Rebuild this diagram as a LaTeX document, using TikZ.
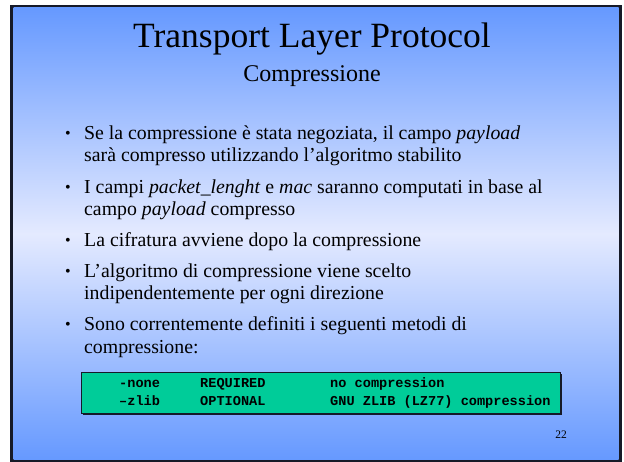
\documentclass[tikz,border=0pt]{standalone}
\usepackage{fontspec}
\setmainfont{Liberation Serif}
\newfontfamily\codefont{Liberation Mono}
\definecolor{frameedge}{RGB}{22,26,40}
\definecolor{skyedge}{RGB}{102,153,255}
\definecolor{skymid}{RGB}{228,234,255}
\definecolor{tablegreen}{RGB}{0,204,153}
\tikzset{
  titletext/.style={anchor=base, inner sep=0pt, font=\fontsize{35.5}{40}\selectfont},
  subtitletext/.style={anchor=base, inner sep=0pt, font=\fontsize{24}{28}\selectfont},
  bodyline/.style={anchor=base west, inner sep=0pt, font=\fontsize{19.8}{23}\selectfont},
  bulletmark/.style={anchor=base west, inner sep=0pt, font=\fontsize{16}{18}\selectfont},
  celltext/.style={anchor=base west, inner sep=0pt, font=\codefont\bfseries\fontsize{13.6}{15}\selectfont},
  pagenum/.style={anchor=base, inner sep=0pt, font=\fontsize{11.5}{14}\selectfont},
}
\begin{document}
\begin{tikzpicture}[x=1pt,y=-1pt]
\useasboundingbox (0,0) rectangle (624,462);
% slide frame and background
\fill[frameedge] (10,5) rectangle (622,462);
\shade[top color=skyedge, bottom color=skyedge, middle color=skymid] (13.5,8) rectangle (618.5,459.5);

% titles
\node[titletext] (title) at (312,48) {Transport Layer Protocol};
\node[subtitletext] (subtitle) at (312,82) {Compressione};

% bullet list
\node[bulletmark] (m1) at (65,139) {•};
\node[bodyline] (l11) at (84,140) {Se la compressione è stata negoziata, il campo \textit{payload}};
\node[bodyline] (l12) at (84,162) {sarà compresso utilizzando l’algoritmo stabilito};

\node[bulletmark] (m2) at (65,193) {•};
\node[bodyline] (l21) at (84,194) {I campi \textit{packet\_lenght} e \textit{mac} saranno computati in base al};
\node[bodyline] (l22) at (84,216) {campo \textit{payload} compresso};

\node[bulletmark] (m3) at (65,246) {•};
\node[bodyline] (l31) at (84,247) {La cifratura avviene dopo la compressione};

\node[bulletmark] (m4) at (65,277) {•};
\node[bodyline] (l41) at (84,278) {L’algoritmo di compressione viene scelto};
\node[bodyline] (l42) at (84,300) {indipendentemente per ogni direzione};

\node[bulletmark] (m5) at (65,330) {•};
\node[bodyline] (l51) at (84,331) {Sono correntemente definiti i seguenti metodi di};
\node[bodyline] (l52) at (84,353) {compressione:};

% table of compression methods
\fill[frameedge] (82.5,373.5) rectangle (561.5,414.5);
\filldraw[fill=tablegreen, draw=frameedge, line width=0.8pt] (81,372) rectangle (560,413);
\node[celltext] (c11) at (119,387) {-none};
\node[celltext] (c12) at (200,387) {REQUIRED};
\node[celltext] (c13) at (330,387) {no compression};
\node[celltext] (c21) at (119,406) {–zlib};
\node[celltext] (c22) at (200,406) {OPTIONAL};
\node[celltext] (c23) at (330,406) {GNU ZLIB (LZ77) compression};

% page number
\node[pagenum] (page) at (561,438) {22};
\end{tikzpicture}
\end{document}
